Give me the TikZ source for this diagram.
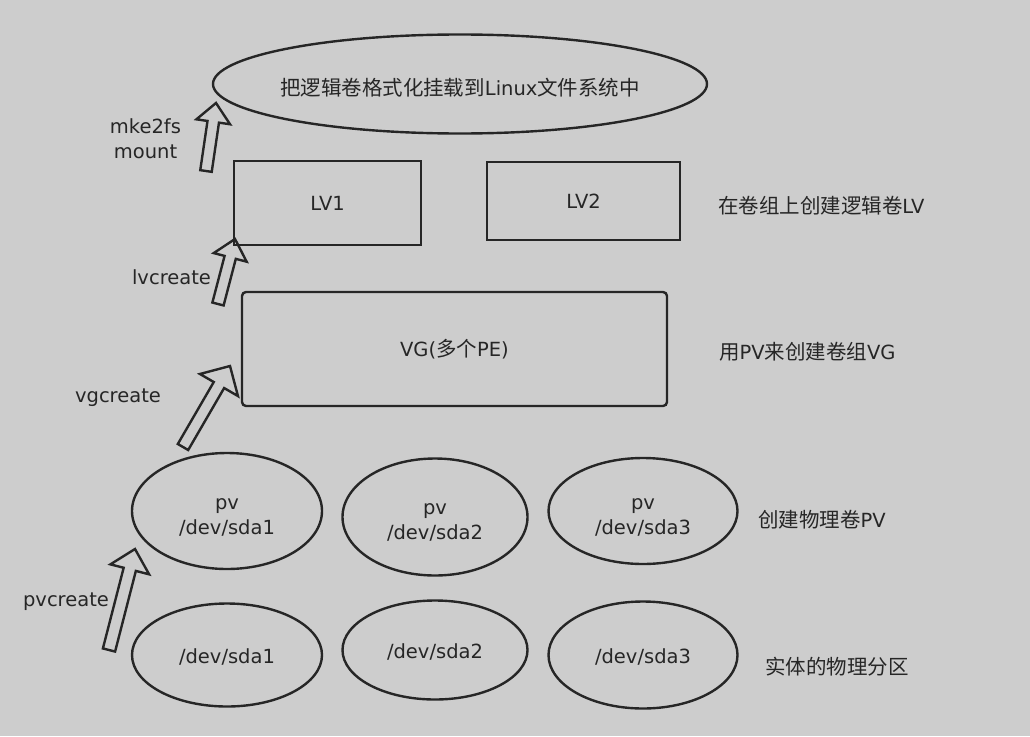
\documentclass[tikz,border=0pt]{standalone}
\usepackage{fontspec}
\setmainfont{DejaVu Sans}
\newfontfamily\cjk[Scale=1.05]{Noto Sans CJK SC}
\usetikzlibrary{shapes.geometric,calc}
\definecolor{bgc}{RGB}{205,205,205}
\definecolor{linec}{RGB}{38,38,38}
\definecolor{txtc}{RGB}{38,38,38}
\begin{document}
\begin{tikzpicture}[x=1pt,y=-1pt,
  every node/.style={text=txtc, font=\fontsize{19.5}{25}\selectfont, inner sep=0pt},
  shp/.style={draw=linec, line width=2.4pt},
  ell/.style={shp, ellipse},
  box/.style={shp, rectangle},
  txt/.style={align=center},
  rlbl/.style={anchor=west},
  barrow/.style n args={3}{draw=linec, line width=2.4pt, line join=miter,
    to path={
      ($(\tikztostart)!#1!90:(\tikztotarget)$)
      -- ($(\tikztotarget)!#3!(\tikztostart)!#1!-90:(\tikztostart)$)
      -- ($(\tikztotarget)!#3!(\tikztostart)!#2!-90:(\tikztostart)$)
      -- (\tikztotarget)
      -- ($(\tikztotarget)!#3!(\tikztostart)!#2!90:(\tikztostart)$)
      -- ($(\tikztotarget)!#3!(\tikztostart)!#1!90:(\tikztostart)$)
      -- ($(\tikztostart)!#1!-90:(\tikztotarget)$)
      -- cycle}}
]
\fill[bgc] (0,0) rectangle (1030,736);
\useasboundingbox (0,0) rectangle (1030,736);

% top ellipse
\node[ell, minimum width=494pt, minimum height=99pt] (fs) at (460,84) {};
\node[txt] (fst) at (460,88) {{\cjk 把逻辑卷格式化挂载到}Linux{\cjk 文件系统中}};

% logical volumes
\node[box, minimum width=187pt, minimum height=84pt] (lv1) at (327.5,203) {LV1};
\node[box, minimum width=193pt, minimum height=78pt] (lv2) at (583.5,201) {LV2};

% volume group
\node[box, rounded corners=4pt, minimum width=425pt, minimum height=114pt] (vg) at (454.5,349) {VG({\cjk 多个}PE)};

% physical volumes
\node[ell, minimum width=190pt, minimum height=116pt] (pv1) at (227,511) {};
\node[ell, minimum width=185pt, minimum height=117pt] (pv2) at (435,517) {};
\node[ell, minimum width=189pt, minimum height=106pt] (pv3) at (643,511) {};
\node[txt] (pv1t) at (227,517.5) {pv\\/dev/sda1};
\node[txt] (pv2t) at (435,522.5) {pv\\/dev/sda2};
\node[txt] (pv3t) at (643,517.5) {pv\\/dev/sda3};

% partitions
\node[ell, minimum width=190pt, minimum height=103pt] (d1) at (227,655) {};
\node[ell, minimum width=185pt, minimum height=99pt] (d2) at (435,650) {};
\node[ell, minimum width=189pt, minimum height=107pt] (d3) at (643,655) {};
\node[txt] (d1t) at (227,657) {/dev/sda1};
\node[txt] (d2t) at (435,652) {/dev/sda2};
\node[txt] (d3t) at (643,657) {/dev/sda3};

% right labels
\node[rlbl] (r1) at (718,206) {{\cjk 在卷组上创建逻辑卷}LV};
\node[rlbl] (r2) at (719,352) {{\cjk 用}PV{\cjk 来创建卷组}VG};
\node[rlbl] (r3) at (758,520) {{\cjk 创建物理卷}PV};
\node[rlbl] (r4) at (765,667) {{\cjk 实体的物理分区}};

% left labels
\node[txt] (l1) at (145.5,139) {mke2fs\\mount};
\node[txt] (l2) at (171.5,277) {lvcreate};
\node[txt] (l3) at (118,398) {vgcreate};
\node[txt] (l4) at (66,602) {pvcreate};

% block arrows
\coordinate (a1t) at (206,171); \coordinate (a1h) at (216,103);
\coordinate (a2t) at (218,304); \coordinate (a2h) at (235,239);
\coordinate (a3t) at (183,447); \coordinate (a3h) at (230,366);
\coordinate (a4t) at (109,650); \coordinate (a4h) at (135,549);
\draw[barrow={5.8pt}{17pt}{19pt}] (a1t) to (a1h);
\draw[barrow={5.8pt}{17pt}{19pt}] (a2t) to (a2h);
\draw[barrow={6pt}{22pt}{22pt}] (a3t) to (a3h);
\draw[barrow={6.3pt}{20pt}{21pt}] (a4t) to (a4h);
\end{tikzpicture}
\end{document}
